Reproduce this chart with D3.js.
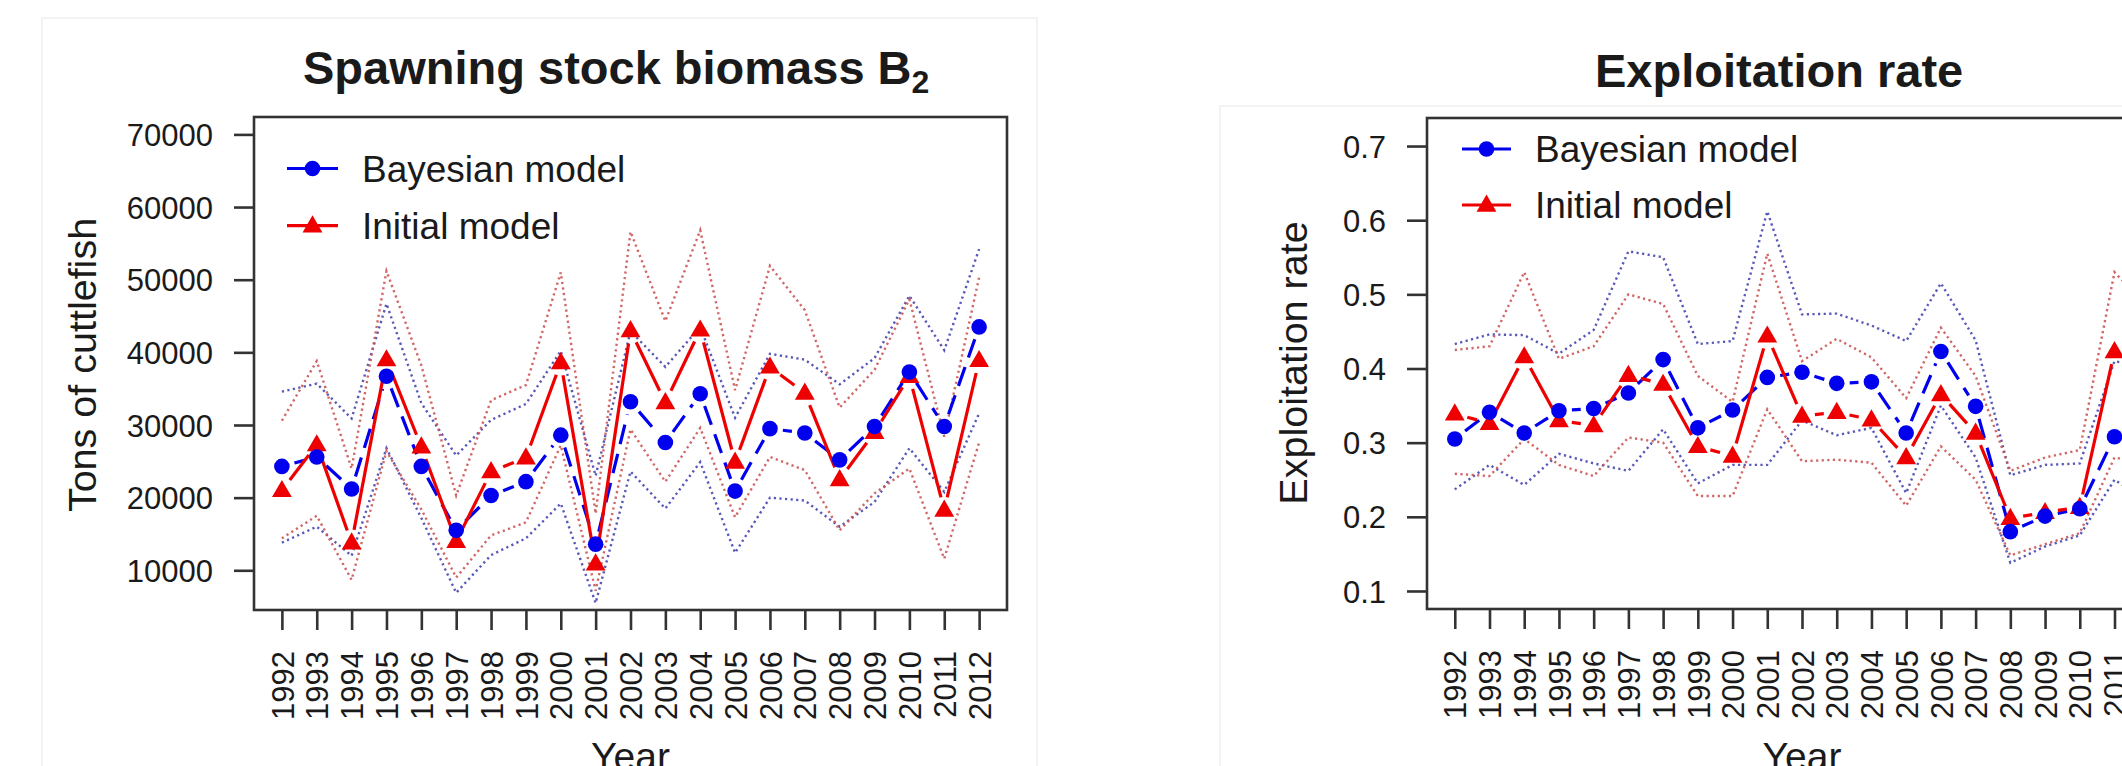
<!DOCTYPE html>
<html>
<head>
<meta charset="utf-8">
<script src="https://cdn.jsdelivr.net/npm/d3@7"></script>
<style>
  html, body { margin: 0; padding: 0; background: #ffffff; }
  svg { display: block; }
  text { font-family: "Liberation Sans", Arial, Helvetica, sans-serif; fill: #1a1a1a; }
</style>
</head>
<body>
<svg id="chart" width="2122" height="766"></svg>
<script>
// ---------------- data ----------------
const years = [1992,1993,1994,1995,1996,1997,1998,1999,2000,2001,2002,2003,2004,2005,2006,2007,2008,2009,2010,2011,2012];

// Spawning stock biomass (tons)
const ssbBayes   = [24300,25600,21200,36700,24300,15500,20300,22200,28600,13600,33200,27600,34300,20900,29500,28900,25200,29800,37300,29800,43500];
const ssbInitial = [21000,27300,13800,39000,27000,14000,23600,25500,38600,10900,43000,33100,43100,24900,38000,34400,22500,29000,36700,18300,38900];
const ssbBayesHi = [34600,35700,30900,46700,33000,25800,30700,32900,40200,23000,42900,38000,43500,31000,39800,39000,35600,39200,47800,40300,54200];
const ssbBayesLo = [13800,16000,12000,26800,17200,6900,12100,14400,19200,5500,23600,18500,24900,12400,20000,19600,16000,19400,26800,20800,31600];
const ssbInitHi  = [30600,38800,24000,51200,38200,20300,33400,35500,51000,17800,56600,44300,56800,34800,51900,45800,32400,37600,47300,28400,50300];
const ssbInitLo  = [14400,17500,8700,26400,18400,9000,14800,16600,27200,7200,29400,22200,29600,17300,25600,23800,15500,20600,24000,11600,27600];
const ssbTicks   = [10000,20000,30000,40000,50000,60000,70000];

// Exploitation rate
const erBayes   = [0.305,0.341,0.313,0.343,0.346,0.367,0.412,0.320,0.344,0.388,0.395,0.380,0.382,0.313,0.423,0.349,0.180,0.201,0.211,0.308,0.300];
const erInitial = [0.339,0.326,0.416,0.330,0.323,0.391,0.379,0.295,0.282,0.444,0.336,0.341,0.331,0.280,0.365,0.313,0.198,0.206,0.213,0.423,0.370];
const erBayesHi = [0.433,0.446,0.445,0.420,0.452,0.558,0.550,0.433,0.437,0.612,0.473,0.474,0.458,0.437,0.515,0.438,0.256,0.270,0.272,0.410,0.400];
const erBayesLo = [0.237,0.270,0.243,0.285,0.272,0.262,0.318,0.245,0.270,0.270,0.330,0.310,0.320,0.232,0.350,0.280,0.138,0.160,0.175,0.250,0.220];
const erInitHi  = [0.425,0.430,0.530,0.413,0.430,0.500,0.487,0.390,0.355,0.555,0.410,0.440,0.415,0.360,0.455,0.390,0.262,0.280,0.290,0.530,0.480];
const erInitLo  = [0.258,0.255,0.305,0.270,0.255,0.307,0.300,0.228,0.228,0.345,0.275,0.277,0.273,0.215,0.295,0.250,0.148,0.163,0.178,0.280,0.270];
const erTicks   = [0.1,0.2,0.3,0.4,0.5,0.6,0.7];

const legendLabels = ["Bayesian model", "Initial model"];

// ---------------- drawing ----------------
const svg = d3.select("#chart");
const BLUE = "#0000ee", RED = "#ee0000";
const BLUE_CI = "#4646b0", RED_CI = "#cc5555";
const AX = "#333333";

// faint outer frames of the original figure panels
svg.append("rect").attr("x",42).attr("y",18).attr("width",995).attr("height",760)
  .attr("fill","none").attr("stroke","#f3f3f3").attr("stroke-width",2);
svg.append("rect").attr("x",1220).attr("y",106).attr("width",920).attr("height",700)
  .attr("fill","none").attr("stroke","#f3f3f3").attr("stroke-width",2);

function panel(cfg) {
  const g = svg.append("g");
  const x = d3.scaleLinear().domain([1991.2, 2012.8]).range([cfg.x0, cfg.x1]);
  const y = d3.scaleLinear().domain(cfg.yDomain).range([cfg.y1, cfg.y0]);

  // title
  const t = g.append("text").attr("x", cfg.titleX).attr("y", cfg.titleY)
    .attr("text-anchor","start").style("font-weight","bold").style("font-size","47px");
  t.append("tspan").text(cfg.title);
  if (cfg.sub) {
    t.append("tspan").text(cfg.sub).style("font-size","32px").attr("dy", 9);
  }

  // CI dotted lines
  const line = d3.line().x((d,i)=>x(years[i])).y(d=>y(d));
  [[cfg.bHi,BLUE_CI],[cfg.bLo,BLUE_CI],[cfg.iHi,RED_CI],[cfg.iLo,RED_CI]].forEach(([arr,c])=>{
    g.append("path").attr("d", line(arr)).attr("fill","none")
      .attr("stroke", c).attr("stroke-width", 2.4).attr("stroke-dasharray","2.2,3.4")
      .attr("opacity", 0.9);
  });

  // type "b" segments with gaps around the points
  function segs(arr, color, dash, gap) {
    for (let i = 0; i < arr.length - 1; i++) {
      const ax = x(years[i]), ay = y(arr[i]), bx = x(years[i+1]), by = y(arr[i+1]);
      const dx = bx - ax, dy = by - ay, L = Math.hypot(dx, dy);
      if (L <= 2*gap) continue;
      const ux = dx/L, uy = dy/L;
      g.append("line")
        .attr("x1", ax + ux*gap).attr("y1", ay + uy*gap)
        .attr("x2", bx - ux*gap).attr("y2", by - uy*gap)
        .attr("stroke", color).attr("stroke-width", 3.2)
        .attr("stroke-dasharray", dash);
    }
  }
  segs(cfg.bay, BLUE, "20,10", 13);
  segs(cfg.ini, RED, null, 13);

  const tri = d3.symbol().type(d3.symbolTriangle).size(170);
  g.selectAll(".tri").data(cfg.ini).join("path")
    .attr("transform",(d,i)=>`translate(${x(years[i])},${y(d)+1})`)
    .attr("d", tri).attr("fill", RED);
  g.selectAll(".dot").data(cfg.bay).join("circle")
    .attr("cx",(d,i)=>x(years[i])).attr("cy",d=>y(d)).attr("r",7.8).attr("fill",BLUE);

  // box
  g.append("rect").attr("x",cfg.x0).attr("y",cfg.y0)
    .attr("width",cfg.x1-cfg.x0).attr("height",cfg.y1-cfg.y0)
    .attr("fill","none").attr("stroke",AX).attr("stroke-width",2.6);

  // y axis
  const ya = g.append("g").attr("transform",`translate(${cfg.x0},0)`)
    .call(d3.axisLeft(y).tickValues(cfg.ticks).tickSize(20).tickPadding(21).tickFormat(cfg.fmt));
  ya.select(".domain").remove();
  ya.selectAll("line").attr("stroke",AX).attr("stroke-width",2.6);
  ya.selectAll("text").style("font-size","31px").style("font-family",'"Liberation Sans", Arial, sans-serif')
    .attr("fill","#222").attr("dy","0.36em");

  // x axis
  const xa = g.append("g").attr("transform",`translate(0,${cfg.y1})`)
    .call(d3.axisBottom(x).tickValues(years).tickSize(20).tickFormat(d=>String(d)));
  xa.select(".domain").remove();
  xa.selectAll("line").attr("stroke",AX).attr("stroke-width",2.6);
  xa.selectAll("text").style("font-size","31px").style("font-family",'"Liberation Sans", Arial, sans-serif')
    .attr("fill","#222")
    .attr("transform","rotate(-90)").attr("x",-41).attr("y",0).attr("dy","0.36em")
    .style("text-anchor","end");

  // axis labels
  g.append("text").attr("transform",`translate(${cfg.ylabX},${cfg.ylabY}) rotate(-90)`)
    .attr("text-anchor","middle").style("font-size","39.5px").text(cfg.ylab);
  g.append("text").attr("x",(cfg.x0+cfg.x1)/2).attr("y",770)
    .attr("text-anchor","middle").style("font-size","39px").text("Year");

  // legend
  const L = cfg.leg;
  [[BLUE,"circle",legendLabels[0],L.r1],[RED,"tri",legendLabels[1],L.r2]].forEach(([c,shape,lab,ry])=>{
    g.append("line").attr("x1",L.x0).attr("x2",L.x1).attr("y1",ry).attr("y2",ry)
      .attr("stroke",c).attr("stroke-width",3.2);
    const mx = (L.x0+L.x1)/2;
    if (shape==="circle") g.append("circle").attr("cx",mx).attr("cy",ry).attr("r",7.8).attr("fill",c);
    else g.append("path").attr("d",tri).attr("transform",`translate(${mx},${ry+1})`).attr("fill",c);
    g.append("text").attr("x",L.tx).attr("y",ry).attr("dy","0.36em").style("font-size","37px").text(lab);
  });
}

panel({
  x0:254, x1:1007, y0:117, y1:610,
  yDomain:[4535, 72395], ticks:ssbTicks, fmt:d=>String(d),
  bay:ssbBayes, ini:ssbInitial, bHi:ssbBayesHi, bLo:ssbBayesLo, iHi:ssbInitHi, iLo:ssbInitLo,
  title:"Spawning stock biomass B", sub:"2", titleX:303, titleY:84,
  ylab:"Tons of cuttlefish", ylabX:96, ylabY:365,
  leg:{x0:287, x1:338, tx:362, r1:168.5, r2:225.7}
});

panel({
  x0:1427, x1:2177, y0:118, y1:609,
  yDomain:[0.0757, 0.7378], ticks:erTicks, fmt:d3.format(".1f"),
  bay:erBayes, ini:erInitial, bHi:erBayesHi, bLo:erBayesLo, iHi:erInitHi, iLo:erInitLo,
  title:"Exploitation rate", sub:null, titleX:1595, titleY:87,
  ylab:"Exploitation rate", ylabX:1307, ylabY:363,
  leg:{x0:1462, x1:1511, tx:1535, r1:149, r2:205}
});
</script>
</body>
</html>
